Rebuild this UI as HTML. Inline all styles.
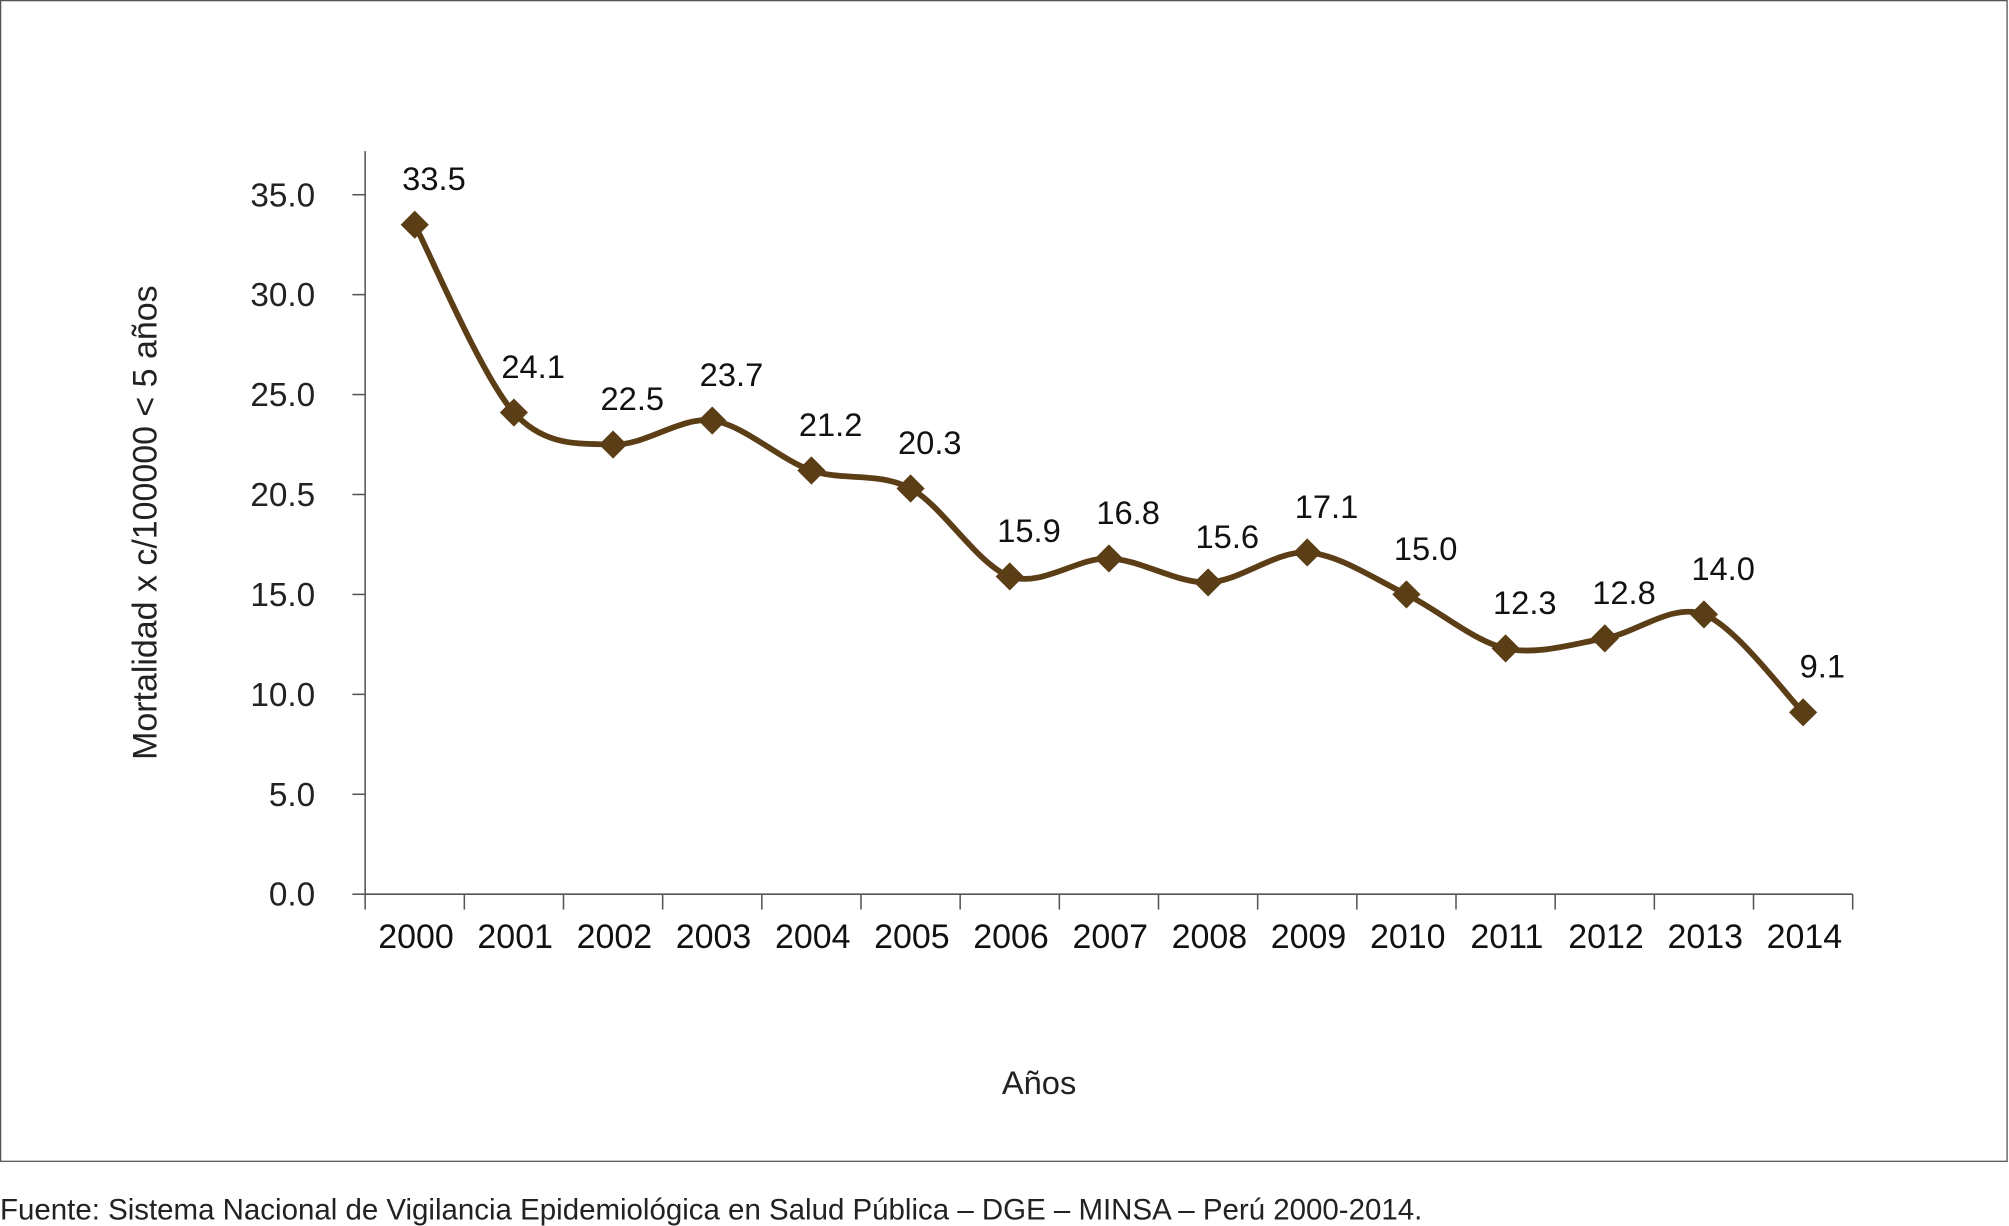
<!DOCTYPE html>
<html><head><meta charset="utf-8"><style>
html,body{margin:0;padding:0;background:#fff;}
svg{display:block;font-family:"Liberation Sans",sans-serif;}
</style></head><body>
<svg id="chart" width="2009" height="1226" viewBox="0 0 1568 957" preserveAspectRatio="none" xmlns="http://www.w3.org/2000/svg">
<rect x="0.5" y="0.5" width="1566" height="906" fill="#fff" stroke="#555" stroke-width="1"/>
<g id="axes"></g>
<g id="series"></g>
<text transform="translate(122,408) rotate(-90)" text-anchor="middle" font-size="26.5" fill="#222">Mortalidad x c/100000 &lt; 5 años</text>
<text x="811" y="854" text-anchor="middle" font-size="25.5" fill="#222">Años</text>
<text x="0" y="952" font-size="23" fill="#222">Fuente: Sistema Nacional de Vigilancia Epidemiológica en Salud Pública – DGE – MINSA – Perú 2000-2014.</text>
</svg>
<script>
const categories=["2000","2001","2002","2003","2004","2005","2006","2007","2008","2009","2010","2011","2012","2013","2014"];
const values=[33.5,24.1,22.5,23.7,21.2,20.3,15.9,16.8,15.6,17.1,15.0,12.3,12.8,14.0,9.1];
const yTickValues=[0,5,10,15,20,25,30,35];
const yTickLabels=["0.0","5.0","10.0","15.0","20.5","25.0","30.0","35.0"];
const NS="http://www.w3.org/2000/svg";
const x0=285,x1=1446,y0=698,yTop=118,yPerUnit=(698-152)/35;
const bw=(x1-x0)/categories.length;
function xs(i){return x0+bw*(i+0.5);}
function ys(v){return y0-v*yPerUnit;}
function mk(tag,attrs,parent){const e=document.createElementNS(NS,tag);for(const k in attrs)e.setAttribute(k,attrs[k]);parent.appendChild(e);return e;}
const ax=document.getElementById('axes'),se=document.getElementById('series');
let l=mk('line',{x1:x0,y1:yTop,x2:x0,y2:y0,stroke:'#555','stroke-width':1.2},ax);


l=mk('line',{x1:x0,y1:y0,x2:x1,y2:y0,stroke:'#555','stroke-width':1.2},ax);


yTickValues.forEach((v,i)=>{
  const t=mk('line',{x1:x0-10,y1:ys(v),x2:x0,y2:ys(v),stroke:'#555','stroke-width':1.2},ax);
  
  
  const tx=mk('text',{x:x0-39,y:ys(v)+9,'text-anchor':'end','font-size':26,fill:'#222'},ax);
  tx.textContent=yTickLabels[i];
  
  
});
for(let i=0;i<=categories.length;i++){
  const t=mk('line',{x1:x0+bw*i,y1:y0,x2:x0+bw*i,y2:y0+12,stroke:'#555','stroke-width':1.2},ax);
  
  
}
categories.forEach((c,i)=>{
  const tx=mk('text',{x:xs(i)+1,y:y0+42,'text-anchor':'middle','font-size':26.5,fill:'#111'},ax);
  tx.textContent=c;
  
  
});
const pts=values.map((v,i)=>[xs(i),ys(v)]);
let d='M'+pts[0][0]+','+pts[0][1];
for(let i=0;i<pts.length-1;i++){
  const p0=pts[Math.max(0,i-1)],p1=pts[i],p2=pts[i+1],p3=pts[Math.min(pts.length-1,i+2)];
  const t=0.16;
  const c1=[p1[0]+(p2[0]-p0[0])*t,p1[1]+(p2[1]-p0[1])*t];
  const c2=[p2[0]-(p3[0]-p1[0])*t,p2[1]-(p3[1]-p1[1])*t];
  d+=` C${c1[0]},${c1[1]} ${c2[0]},${c2[1]} ${p2[0]},${p2[1]}`;
}
const line=mk('path',{d:d,fill:'none',stroke:'#5b3e16','stroke-width':4.5,'stroke-linejoin':'round'},se);


pts.forEach((p,i)=>{
  const s=11;
  const m=mk('polygon',{points:`${p[0]},${p[1]-s} ${p[0]+s},${p[1]} ${p[0]},${p[1]+s} ${p[0]-s},${p[1]}`,fill:'#5b3e16'},se);
  
  
  const tx=mk('text',{x:p[0]+15,y:p[1]-27,'text-anchor':'middle','font-size':25.5,fill:'#111'},se);
  tx.textContent=values[i].toFixed(1);
  
  
});
</script>
</body></html>
